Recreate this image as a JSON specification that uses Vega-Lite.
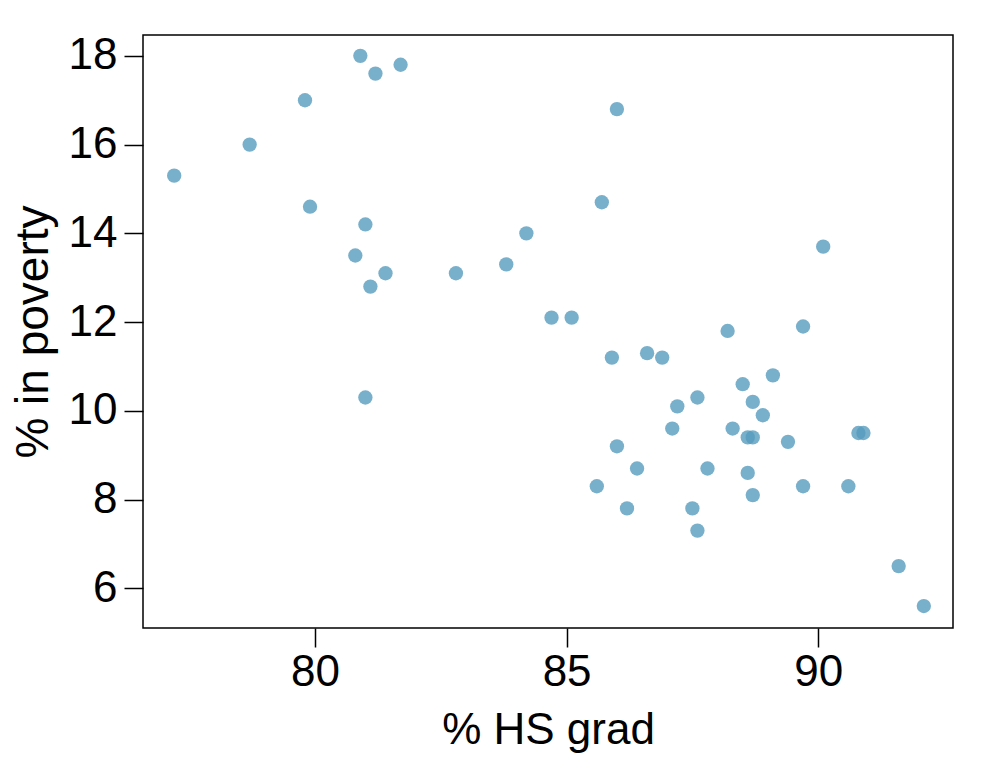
{
  "$schema": "https://vega.github.io/schema/vega-lite/v6.json",
  "width": 810,
  "height": 593,
  "autosize": {"type": "none"},
  "padding": {"left": 143, "top": 35, "right": 37, "bottom": 145},
  "background": "white",
  "config": {
    "view": {"stroke": "black", "strokeWidth": 1.5},
    "font": "Liberation Sans"
  },
  "data": {
    "values": [
      {"hs_grad": 77.2, "poverty": 15.3},
      {"hs_grad": 78.7, "poverty": 16.0},
      {"hs_grad": 79.8, "poverty": 17.0},
      {"hs_grad": 79.9, "poverty": 14.6},
      {"hs_grad": 80.9, "poverty": 18.0},
      {"hs_grad": 81.2, "poverty": 17.6},
      {"hs_grad": 81.7, "poverty": 17.8},
      {"hs_grad": 81.0, "poverty": 14.2},
      {"hs_grad": 80.8, "poverty": 13.5},
      {"hs_grad": 81.4, "poverty": 13.1},
      {"hs_grad": 81.1, "poverty": 12.8},
      {"hs_grad": 81.0, "poverty": 10.3},
      {"hs_grad": 82.8, "poverty": 13.1},
      {"hs_grad": 83.8, "poverty": 13.3},
      {"hs_grad": 84.2, "poverty": 14.0},
      {"hs_grad": 84.7, "poverty": 12.1},
      {"hs_grad": 85.1, "poverty": 12.1},
      {"hs_grad": 85.7, "poverty": 14.7},
      {"hs_grad": 86.0, "poverty": 16.8},
      {"hs_grad": 85.9, "poverty": 11.2},
      {"hs_grad": 86.6, "poverty": 11.3},
      {"hs_grad": 86.9, "poverty": 11.2},
      {"hs_grad": 88.2, "poverty": 11.8},
      {"hs_grad": 89.7, "poverty": 11.9},
      {"hs_grad": 90.1, "poverty": 13.7},
      {"hs_grad": 88.5, "poverty": 10.6},
      {"hs_grad": 89.1, "poverty": 10.8},
      {"hs_grad": 87.6, "poverty": 10.3},
      {"hs_grad": 87.2, "poverty": 10.1},
      {"hs_grad": 88.7, "poverty": 10.2},
      {"hs_grad": 88.9, "poverty": 9.9},
      {"hs_grad": 87.1, "poverty": 9.6},
      {"hs_grad": 88.3, "poverty": 9.6},
      {"hs_grad": 88.6, "poverty": 9.4},
      {"hs_grad": 88.7, "poverty": 9.4},
      {"hs_grad": 89.4, "poverty": 9.3},
      {"hs_grad": 90.8, "poverty": 9.5},
      {"hs_grad": 90.9, "poverty": 9.5},
      {"hs_grad": 86.0, "poverty": 9.2},
      {"hs_grad": 86.4, "poverty": 8.7},
      {"hs_grad": 87.8, "poverty": 8.7},
      {"hs_grad": 88.6, "poverty": 8.6},
      {"hs_grad": 85.6, "poverty": 8.3},
      {"hs_grad": 89.7, "poverty": 8.3},
      {"hs_grad": 90.6, "poverty": 8.3},
      {"hs_grad": 88.7, "poverty": 8.1},
      {"hs_grad": 86.2, "poverty": 7.8},
      {"hs_grad": 87.5, "poverty": 7.8},
      {"hs_grad": 87.6, "poverty": 7.3},
      {"hs_grad": 91.6, "poverty": 6.5},
      {"hs_grad": 92.1, "poverty": 5.6}
    ]
  },
  "mark": {"type": "circle", "size": 205, "color": "#569BBD", "opacity": 0.8},
  "encoding": {
    "x": {
      "field": "hs_grad",
      "type": "quantitative",
      "title": "% HS grad",
      "scale": {"domain": [76.58, 92.68], "nice": false, "zero": false},
      "axis": {
        "values": [80, 85, 90],
        "grid": false,
        "domain": false,
        "tickColor": "black",
        "tickWidth": 1.5,
        "tickSize": 19,
        "labelFontSize": 44,
        "labelColor": "black",
        "labelPadding": 3,
        "labelFlush": false,
        "titleFontSize": 44,
        "titleFontWeight": "normal",
        "titleColor": "black",
        "titleY": 115,
        "titleBaseline": "alphabetic"
      }
    },
    "y": {
      "field": "poverty",
      "type": "quantitative",
      "title": "% in poverty",
      "scale": {"domain": [5.105, 18.47], "nice": false, "zero": false},
      "axis": {
        "values": [6, 8, 10, 12, 14, 16, 18],
        "grid": false,
        "domain": false,
        "tickColor": "black",
        "tickWidth": 1.5,
        "tickSize": 19,
        "labelFontSize": 44,
        "labelColor": "black",
        "labelPadding": 7,
        "labelFlush": false,
        "titleFontSize": 46,
        "titleFontWeight": "normal",
        "titleColor": "black",
        "titleX": -96,
        "titleBaseline": "alphabetic"
      }
    }
  }
}
